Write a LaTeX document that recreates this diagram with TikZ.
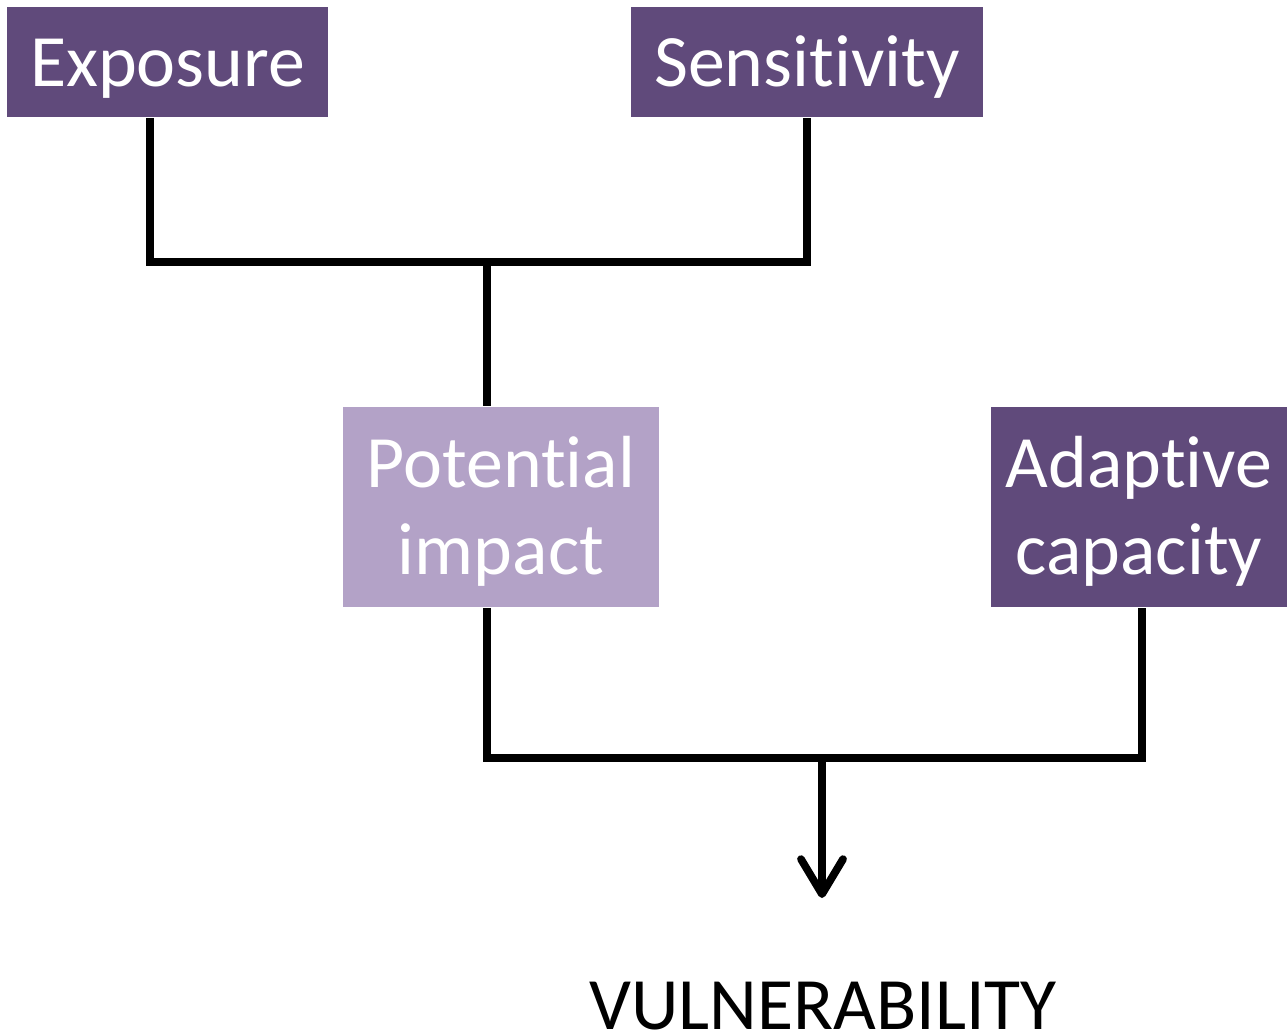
\documentclass[tikz,border=0pt]{standalone}
\usepackage{fontspec}
\setmainfont{Carlito}[Ligatures=NoCommon]
\usetikzlibrary{arrows.meta}
\definecolor{darkpurple}{HTML}{604A7B}
\definecolor{lightpurple}{HTML}{B3A2C7}

\begin{document}
\begin{tikzpicture}[x=0.01cm, y=-0.01cm,
        factor/.style={fill=darkpurple, text=white, inner sep=0pt, align=center,
            font=\fontsize{21}{25}\selectfont, text height=0.55cm, text depth=0.07cm},
        twoline/.style={text height=0.55cm+25pt},
        link/.style={line width=2.2pt}]
        \useasboundingbox (0,0) rectangle (1287,1035);

        \node[factor, minimum width=3.21cm, minimum height=1.1cm] at (167.5, 62)(exp){Exposure};
        \node[factor, minimum width=3.52cm, minimum height=1.1cm] at (807, 62)(sen){Sensitivity};
        \node[factor, twoline, fill=lightpurple, minimum width=3.16cm, minimum height=2cm] at (501, 507)(pot){Potential\\impact};
        \node[factor, twoline, minimum width=2.96cm, minimum height=2cm] at (1139, 507)(ada){Adaptive\\capacity};
        \node[factor, fill=none, text=black, text height=0.48cm, text depth=0pt] at (823, 1005)(vul){VULNERABILITY};

        \coordinate (j1) at (487, 262);
        \coordinate (j2) at (822, 758);
        \coordinate (tip) at (822, 898);

        \draw[link] ([xshift=-0.175cm]exp.south) |- (j1) -| (sen.south);
        \draw[link] (j1) -- (j1 |- pot.north);
        \draw[link] (j1 |- pot.south) |- (j2) -| ([xshift=0.03cm]ada.south);
        \draw[link, -{Straight Barb[length=0.35cm, width=0.42cm, line cap=round, line join=round]}] (j2) -- (tip);
    \end{tikzpicture}
\end{document}
